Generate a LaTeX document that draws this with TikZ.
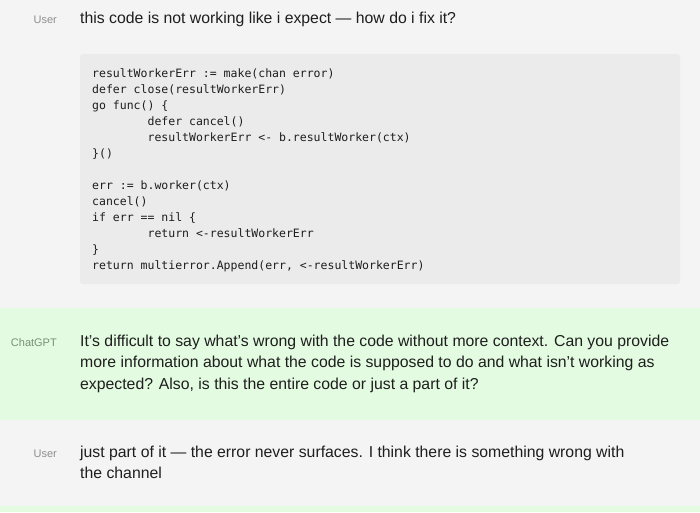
\documentclass[tikz,border=0pt]{standalone}
\usepackage{fontspec}
\usepackage{xcolor}
\usepackage{tikz}
\usetikzlibrary{calc}
\setmainfont{Liberation Sans}
\newfontfamily\codefont{DejaVu Sans Mono}
\definecolor{pagebg}{HTML}{F4F4F4}
\definecolor{botbg}{HTML}{E3FBE1}
\definecolor{codebg}{HTML}{EBEBEB}
\definecolor{inktext}{HTML}{1E1E1E}
\definecolor{usergray}{HTML}{8E8E8E}
\definecolor{botgray}{HTML}{7A907A}
\newcommand{\tabin}{\phantom{xxxxxxxx}}

\begin{document}
\begin{tikzpicture}[x=1pt, y=-1pt,
  who/.style={anchor=base east, inner sep=0pt, font=\fontsize{11}{13}\selectfont},
  msg/.style={anchor=base west, inner sep=0pt, align=left, text=inktext,
    font=\fontsize{15.8}{21.5}\selectfont},
  codetext/.style={anchor=base west, inner sep=0pt, align=left, text=inktext,
    font=\codefont\fontsize{11.5}{16}\selectfont}]
  \useasboundingbox (0,0) rectangle (700,512);
  % bands (multi-line nodes sit on their last baseline)
  \fill[pagebg] (0,0) rectangle (700,512);
  \fill[botbg] (0,308) rectangle (700,420);
  \fill[botbg] (0,506) rectangle (700,512);
  \fill[codebg, rounded corners=3pt] (80,54) rectangle (680,284);
  % first question
  \node[who, text=usergray] (who1) at (57,23) {User};
  \node[msg] (ask1) at (80,23) {this code is not working like i expect — how do i fix it?};
  \node[codetext] (code) at (92,269) {resultWorkerErr := make(chan error)\\
defer close(resultWorkerErr)\\
go func() \{\\
\tabin defer cancel()\\
\tabin resultWorkerErr <- b.resultWorker(ctx)\\
\}()\\
\strut\\
err := b.worker(ctx)\\
cancel()\\
if err == nil \{\\
\tabin return <-resultWorkerErr\\
\}\\
return multierror.Append(err, <-resultWorkerErr)};
  % answer
  \node[who, text=botgray] (who2) at (57,346) {ChatGPT};
  \node[msg] (reply) at (80,389) {It’s difficult to say what’s wrong with the code without more context. Can you provide\\
more information about what the code is supposed to do and what isn’t working as\\
expected? Also, is this the entire code or just a part of it?};
  % second question
  \node[who, text=usergray] (who3) at (57,457) {User};
  \node[msg] (ask2) at (80,478.5) {just part of it — the error never surfaces. I think there is something wrong with\\
the channel};
\end{tikzpicture}
\end{document}
